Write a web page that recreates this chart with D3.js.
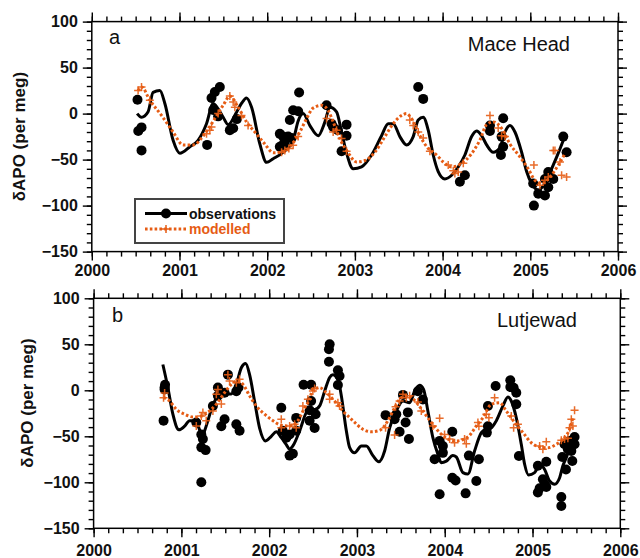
<!DOCTYPE html>
<html><head><meta charset="utf-8">
<script src="https://cdn.jsdelivr.net/npm/d3@7"></script>
<style>body{margin:0;background:#fff}svg{display:block}</style>
</head><body>
<svg id="c" width="640" height="558"></svg>
<script>
// ---------- shared axis data ----------
const yearTicks = [2000, 2001, 2002, 2003, 2004, 2005, 2006];
const valueTicks = [100, 50, 0, -50, -100, -150];
const yearDomain = [2000, 2006];
const valueDomain = [-150, 100];
const stationNames = ["Mace Head", "Lutjewad"];
const panelLetters = ["a", "b"];
const legendLabels = ["observations", "modelled"];
const yTitle = "δAPO (per meg)";

// ---------- (a) Mace Head ----------
const maceObsCurve = [
 [2000.517,0],[2000.567,-4],[2000.642,2],[2000.699,23],[2000.776,25],[2000.833,11],[2000.927,-29],
 [2001.004,-43],[2001.118,-36],[2001.212,-29],[2001.308,-11],[2001.384,11],[2001.441,5],[2001.498,-4],
 [2001.555,-12],[2001.642,0],[2001.707,11],[2001.764,17],[2001.822,7],[2001.916,-33],[2001.993,-53],
 [2002.068,-49],[2002.182,-42],[2002.296,-29],[2002.353,-8],[2002.410,0],[2002.487,-13],[2002.581,-24],
 [2002.658,-9],[2002.715,7],[2002.791,2],[2002.848,-20],[2002.905,-43],[2002.980,-60],[2003.076,-58],
 [2003.190,-45],[2003.304,-24],[2003.380,-11],[2003.437,-11],[2003.513,-25],[2003.589,-34],[2003.665,-25],
 [2003.722,-7],[2003.779,-4],[2003.836,-18],[2003.893,-45],[2003.950,-63],[2004.026,-71],[2004.103,-67],
 [2004.178,-58],[2004.254,-45],[2004.331,-25],[2004.388,-19],[2004.445,-24],[2004.502,-34],[2004.577,-42],
 [2004.654,-37],[2004.711,-20],[2004.768,-13],[2004.825,-20],[2004.901,-42],[2004.958,-63],[2005.015,-76],
 [2005.091,-83],[2005.167,-76],[2005.243,-60],[2005.319,-43],[2005.384,-27]
];
const maceObsPoints = [
 [2000.521,15],[2000.567,-15],[2000.530,-19],[2000.567,-40],
 [2001.315,-34],[2001.365,17],[2001.403,23.5],[2001.460,29],[2001.384,4],[2001.441,-3],
 [2001.574,-18],[2001.612,-16],[2001.654,-6],
 [2002.144,-22],[2002.182,-25],[2002.239,-25],[2002.278,-26.5],[2002.144,-36],[2002.182,-34],
 [2002.201,-31],[2002.258,-7],[2002.296,3.6],[2002.353,2.5],[2002.364,23],
 [2002.677,9],[2002.734,-11],[2002.752,-14.5],[2002.905,-12],[2002.905,-24],[2002.848,-41],[2002.806,-18],
 [2003.722,29],[2003.779,16],
 [2004.197,-74],[2004.254,-67],[2004.540,-13],[2004.540,-19],[2004.691,-5],[2004.673,-25],
 [2004.691,-36],[2004.665,-45],
 [2005.376,-25],[2005.414,-42],[2005.041,-100],[2005.033,-76],[2005.091,-87],[2005.167,-89],
 [2005.205,-80],[2005.205,-63.5],[2005.262,-71],[2005.167,-71]
];
const maceModCurve = [
 [2000.528,25],[2000.567,29],[2000.662,14.5],[2000.795,-2],[2000.927,-20],[2001.041,-34],[2001.155,-34],
 [2001.289,-22],[2001.403,-5.4],[2001.498,9],[2001.574,19],[2001.669,7],[2001.764,-9],[2001.859,-20],
 [2001.973,-33],[2002.068,-42.5],[2002.164,-42],[2002.278,-34],[2002.372,-20],[2002.449,-5.4],[2002.524,6],
 [2002.620,9],[2002.695,3.6],[2002.752,-9],[2002.827,-27],[2002.922,-42.5],[2003.019,-52.6],[2003.114,-51],
 [2003.228,-42],[2003.342,-25],[2003.437,-11],[2003.532,-2],[2003.589,0],[2003.646,-5.4],[2003.741,-24],
 [2003.836,-38],[2003.932,-45],[2004.007,-52.6],[2004.103,-58],[2004.217,-54],[2004.331,-43.5],
 [2004.424,-29],[2004.502,-12],[2004.577,-9],[2004.673,-16],[2004.768,-33],[2004.882,-47],[2004.976,-60],
 [2005.053,-72.5],[2005.129,-76],[2005.224,-69],[2005.319,-56],[2005.395,-43.5]
];
const maceModPoints = [
 [2000.528,25],[2000.567,29],[2000.662,14.5],
 [2001.308,-22],[2001.346,-18],[2001.365,-14.5],[2001.441,0],[2001.574,19],[2001.612,12.6],[2001.631,7],
 [2001.707,-2],[2001.782,-13],
 [2002.164,-42],[2002.201,-40],[2002.247,-38],[2002.296,-34.5],[2002.353,-25],
 [2002.677,-5.4],[2002.752,-20],[2002.791,-18],[2002.848,-27],[2002.905,-41],
 [2003.626,-7],[2003.665,-13],[2003.722,-20],[2003.779,-26.5],[2003.855,-41],
 [2004.064,-56],[2004.122,-62],[2004.178,-63.5],[2004.236,-54],[2004.140,-65],
 [2004.540,-2],[2004.634,-15.6],[2004.673,-24],[2004.711,-25],
 [2005.041,-56],[2005.110,-78],[2005.167,-72.5],[2005.205,-69],[2005.262,-40],[2005.281,-40],
 [2005.338,-52.6],[2005.357,-67],[2005.414,-69]
];

// ---------- (b) Lutjewad ----------
const lutObsCurve = [
 [2000.789,28],[2000.846,3],[2000.903,-26],[2000.972,-43],[2001.037,-39],[2001.094,-33],[2001.151,-33],
 [2001.200,-41],[2001.238,-51],[2001.265,-44],[2001.302,-33],[2001.341,-21],[2001.398,-8],[2001.455,-1],
 [2001.512,-4],[2001.569,-4],[2001.626,6.5],[2001.683,24.5],[2001.732,29],[2001.777,17],[2001.834,-12],
 [2001.891,-41],[2001.959,-55],[2002.024,-50],[2002.081,-45],[2002.138,-51.5],[2002.195,-59],[2002.233,-64],
 [2002.270,-60.5],[2002.347,-44],[2002.423,-24],[2002.461,-19],[2002.518,-21],[2002.575,-17],[2002.632,-1],
 [2002.689,14],[2002.726,17],[2002.783,12],[2002.822,-6],[2002.879,-44],[2002.916,-62],[2002.973,-68],
 [2003.050,-60.5],[2003.107,-60.5],[2003.182,-71],[2003.250,-77.6],[2003.315,-66],[2003.372,-41],
 [2003.448,-22.5],[2003.524,-11.6],[2003.600,-13.5],[2003.657,-1],[2003.714,5.4],[2003.759,1],
 [2003.808,-22.5],[2003.865,-51.5],[2003.922,-69.6],[2003.961,-78.7],[2004.018,-77],[2004.093,-71],
 [2004.132,-72.5],[2004.207,-89.5],[2004.264,-91],[2004.340,-66],[2004.417,-46],[2004.474,-42],
 [2004.531,-40.6],[2004.588,-33],[2004.663,-17],[2004.720,-7.3],[2004.758,-11.6],[2004.815,-29.8],
 [2004.872,-58.7],[2004.910,-80.4],[2004.955,-92],[2005.024,-89.5],[2005.081,-80.4],[2005.138,-86],
 [2005.195,-98.6],[2005.252,-102],[2005.309,-95],[2005.346,-82],[2005.392,-71.4],[2005.428,-60]
];
const lutObsPoints = [
 [2000.809,3],[2000.814,6],[2000.809,1],[2000.797,-33],
 [2001.170,-35],[2001.227,-48],[2001.245,-53],[2001.227,-62],[2001.276,-65],[2001.227,-100],
 [2001.359,-17],[2001.416,3],[2001.416,-6],[2001.492,-2.6],[2001.530,17],[2001.492,-31.5],[2001.455,-39],
 [2001.626,-37],[2001.663,-44],[2001.626,-1],[2001.651,3],
 [2002.138,-19],[2002.154,-44],[2002.195,-51.5],[2002.233,-48],[2002.233,-71],[2002.270,-69],
 [2002.308,-30],[2002.308,-44],[2002.392,6],[2002.478,6],[2002.478,-11.6],[2002.461,-21.7],
 [2002.529,-26],[2002.461,-33],[2002.518,-41],
 [2002.689,50],[2002.681,44.6],[2002.681,31],[2002.783,21.7],[2002.802,15.5],[2002.783,5.8],
 [2003.326,-27],[2003.448,-26],[2003.429,-31.5],[2003.486,-45],[2003.554,-35],[2003.580,-24],
 [2003.592,-53],[2003.524,-5],[2003.694,-1],[2003.751,-10],
 [2003.885,-75],[2003.942,-55],[2003.979,-60.5],[2003.979,-68],[2004.086,-45],[2004.086,-95],
 [2004.124,-98],[2003.942,-113],[2004.238,-112],[2004.275,-71],[2004.360,-98.6],[2004.389,-75],
 [2004.480,-46],[2004.492,-39],[2004.492,-17],[2004.580,4.7],
 [2004.747,10.9],[2004.747,3.6],[2004.785,2.8],[2004.815,-2.6],[2004.815,-15.2],[2004.845,-71.4],
 [2005.061,-82],[2005.157,-77.6],[2005.118,-96.7],[2005.138,-102],[2005.081,-106.5],[2005.061,-111],
 [2005.157,-105],[2005.328,-116],[2005.328,-125.8],[2005.339,-72.5],[2005.381,-86],[2005.365,-58.7],
 [2005.403,-64],[2005.422,-55],[2005.479,-50.8],[2005.479,-58.7],[2005.453,-76.8],[2005.442,-66]
];
const lutModCurve = [
 [2000.797,-8],[2000.866,-11.6],[2000.942,-20.7],[2001.037,-26],[2001.131,-29],[2001.227,-28],
 [2001.321,-22.5],[2001.398,-15],[2001.492,-2.6],[2001.569,6.5],[2001.632,10],[2001.701,6.5],
 [2001.777,-6],[2001.853,-17],[2001.948,-26],[2002.043,-33],[2002.138,-38],[2002.233,-38.8],
 [2002.327,-33],[2002.404,-19],[2002.461,-9.8],[2002.498,1],[2002.575,2.8],[2002.651,-2.6],
 [2002.745,-11.6],[2002.840,-22.5],[2002.954,-33],[2003.068,-42.4],[2003.163,-45],[2003.258,-43.5],
 [2003.353,-33],[2003.429,-19],[2003.505,-8],[2003.580,-6.2],[2003.657,-10.9],[2003.751,-22.5],
 [2003.847,-35],[2003.942,-46],[2004.036,-53],[2004.132,-55],[2004.264,-50.8],[2004.360,-38.8],
 [2004.435,-29.8],[2004.531,-15.2],[2004.625,-13.5],[2004.701,-22.5],[2004.796,-35],[2004.891,-46],
 [2004.986,-57],[2005.081,-61.6],[2005.175,-62.4],[2005.271,-58.7],[2005.365,-51.5],[2005.422,-42.4],
 [2005.460,-29.8]
];
const lutModPoints = [
 [2000.797,-8],[2000.809,-3],
 [2001.170,-38.8],[2001.227,-28],[2001.245,-24],[2001.283,-33],[2001.359,-22.5],[2001.398,-4.3],
 [2001.416,1],[2001.455,-15],[2001.530,17],[2001.549,10],[2001.626,8.3],[2001.663,12],
 [2002.138,-31.5],[2002.138,-40.6],[2002.233,-38.8],[2002.290,-37],[2002.308,-40.6],[2002.384,-17],
 [2002.441,-9.8],[2002.498,-0.8],[2002.518,2],[2002.689,-4.3],[2002.689,-9.8],[2002.783,-13.5],
 [2002.802,-17],
 [2003.326,-40.6],[2003.429,-48.6],[2003.440,-18],[2003.486,-11.6],[2003.524,-4.3],[2003.562,-8],
 [2003.600,-6],[2003.694,-12.7],[2003.733,-22.5],[2003.865,-38.8],[2003.942,-30.4],[2003.998,-48],
 [2004.056,-53],[2004.112,-57],[2004.226,-53],[2004.246,-58],[2004.378,-35],[2004.389,-39],
 [2004.474,-26],[2004.503,-29.8],[2004.568,-8],[2004.758,-28],[2004.785,-40.6],[2004.834,-37],
 [2005.081,-60.5],[2005.118,-64],[2005.157,-55.8],[2005.328,-54.3],[2005.365,-53],[2005.403,-52],
 [2005.422,-40.6],[2005.442,-31.5],[2005.460,-38.8],[2005.479,-21.7]
];

// ---------- drawing ----------
const ORANGE = "#e65c14";
const FONT = "'Liberation Sans', Arial, sans-serif";
const svg = d3.select("#c");

const panels = [
 {name: stationNames[0], letter: panelLetters[0], obsC: maceObsCurve, obsP: maceObsPoints,
  modC: maceModCurve, modP: maceModPoints,
  left: 91.8, right: 618, top: 21.6, bottom: 251.6, xLabelPad: 4, titleX: 19, titleY: 136.6,
  letterPos: [109, 44], namePos: [570, 51], legend: true},
 {name: stationNames[1], letter: panelLetters[1], obsC: lutObsCurve, obsP: lutObsPoints,
  modC: lutModCurve, modP: lutModPoints,
  left: 93.6, right: 620.3, top: 298.3, bottom: 528.3, xLabelPad: 7.5, titleX: 27.5, titleY: 403,
  letterPos: [112, 322], namePos: [577, 327], legend: false}
];

function minorTicks(lo, hi, step) {
  const out = [];
  for (let v = lo; v <= hi + 1e-9; v += step) out.push(+v.toFixed(6));
  return out;
}
const xMinor = minorTicks(yearDomain[0], yearDomain[1], 1/6);
const yMinor = minorTicks(valueDomain[0], valueDomain[1], 10);

panels.forEach(p => {
  const x = d3.scaleLinear().domain(yearDomain).range([p.left, p.right]);
  const y = d3.scaleLinear().domain(valueDomain).range([p.bottom, p.top]);
  const g = svg.append("g");

  const styleAxis = sel => {
    sel.select(".domain").remove();
    sel.selectAll("line").attr("stroke", "#000").attr("stroke-width", 1.4);
    sel.selectAll("text").attr("font-family", FONT).attr("font-weight", "bold")
      .attr("font-size", 16).attr("fill", "#111");
  };
  // minor ticks on all four sides
  g.append("g").attr("transform", `translate(0,${p.bottom})`)
    .call(d3.axisBottom(x).tickValues(xMinor).tickSize(5).tickFormat("")).call(styleAxis);
  g.append("g").attr("transform", `translate(0,${p.top})`)
    .call(d3.axisTop(x).tickValues(xMinor).tickSize(5).tickFormat("")).call(styleAxis);
  g.append("g").attr("transform", `translate(${p.left},0)`)
    .call(d3.axisLeft(y).tickValues(yMinor).tickSize(5).tickFormat("")).call(styleAxis);
  g.append("g").attr("transform", `translate(${p.right},0)`)
    .call(d3.axisRight(y).tickValues(yMinor).tickSize(5).tickFormat("")).call(styleAxis);
  // major ticks
  g.append("g").attr("transform", `translate(0,${p.bottom})`)
    .call(d3.axisBottom(x).tickValues(yearTicks).tickSize(9).tickPadding(p.xLabelPad).tickFormat(d3.format("d")))
    .call(styleAxis);
  g.append("g").attr("transform", `translate(0,${p.top})`)
    .call(d3.axisTop(x).tickValues(yearTicks).tickSize(9).tickFormat("")).call(styleAxis);
  g.append("g").attr("transform", `translate(${p.left},0)`)
    .call(d3.axisLeft(y).tickValues(valueTicks).tickSize(9).tickPadding(5).tickFormat(d3.format("d")))
    .call(styleAxis);
  g.append("g").attr("transform", `translate(${p.right},0)`)
    .call(d3.axisRight(y).tickValues(valueTicks).tickSize(9).tickFormat("")).call(styleAxis);

  // frame
  g.append("rect").attr("x", p.left).attr("y", p.top)
    .attr("width", p.right - p.left).attr("height", p.bottom - p.top)
    .attr("fill", "none").attr("stroke", "#000").attr("stroke-width", 1.5);

  // y title
  g.append("text").attr("transform", `translate(${p.titleX},${p.titleY}) rotate(-90)`)
    .attr("text-anchor", "middle").attr("dominant-baseline", "central")
    .attr("font-family", FONT).attr("font-weight", "bold").attr("font-size", 17)
    .attr("fill", "#111").text(yTitle);

  // panel labels
  g.append("text").attr("x", p.letterPos[0]).attr("y", p.letterPos[1])
    .attr("font-family", FONT).attr("font-size", 20).attr("fill", "#111").text(p.letter);
  g.append("text").attr("x", p.namePos[0]).attr("y", p.namePos[1]).attr("text-anchor", "end")
    .attr("font-family", FONT).attr("font-size", 20).attr("fill", "#111").text(p.name);

  const line = d3.line().x(d => x(d[0])).y(d => y(d[1])).curve(d3.curveMonotoneX);

  // observations
  g.append("path").datum(p.obsC).attr("d", line).attr("fill", "none")
    .attr("stroke", "#000").attr("stroke-width", 3).attr("stroke-linejoin", "round");
  g.selectAll(".obs").data(p.obsP).join("circle").attr("class", "obs")
    .attr("cx", d => x(d[0])).attr("cy", d => y(d[1])).attr("r", 5).attr("fill", "#000");

  // modelled
  g.append("path").datum(p.modC).attr("d", line).attr("fill", "none")
    .attr("stroke", ORANGE).attr("stroke-width", 3).attr("stroke-dasharray", "2.6 2.2");
  const cs = 4;
  g.selectAll(".mod").data(p.modP).join("path").attr("class", "mod")
    .attr("d", d => `M${x(d[0]) - cs},${y(d[1])}h${2*cs}M${x(d[0])},${y(d[1]) - cs}v${2*cs}`)
    .attr("stroke", ORANGE).attr("stroke-width", 1.5).attr("fill", "none").attr("opacity", 0.9);

  if (p.legend) {
    const lg = g.append("g");
    lg.append("rect").attr("x", 135).attr("y", 199).attr("width", 149).attr("height", 44)
      .attr("fill", "#fff").attr("stroke", "#444").attr("stroke-width", 2);
    lg.append("line").attr("x1", 145).attr("x2", 187).attr("y1", 213.5).attr("y2", 213.5)
      .attr("stroke", "#000").attr("stroke-width", 3);
    lg.append("circle").attr("cx", 166).attr("cy", 213.5).attr("r", 5).attr("fill", "#000");
    lg.append("line").attr("x1", 145).attr("x2", 187).attr("y1", 229).attr("y2", 229)
      .attr("stroke", ORANGE).attr("stroke-width", 3).attr("stroke-dasharray", "2.6 2.2");
    lg.append("path").attr("d", `M${166 - cs},229h${2*cs}M166,${229 - cs}v${2*cs}`)
      .attr("stroke", ORANGE).attr("stroke-width", 1.5);
    lg.append("text").attr("x", 189).attr("y", 218.5).attr("font-family", FONT)
      .attr("font-weight", "bold").attr("font-size", 14).attr("fill", "#111").text(legendLabels[0]);
    lg.append("text").attr("x", 189).attr("y", 234).attr("font-family", FONT)
      .attr("font-weight", "bold").attr("font-size", 14).attr("fill", ORANGE).text(legendLabels[1]);
  }
});
</script>
</body></html>
